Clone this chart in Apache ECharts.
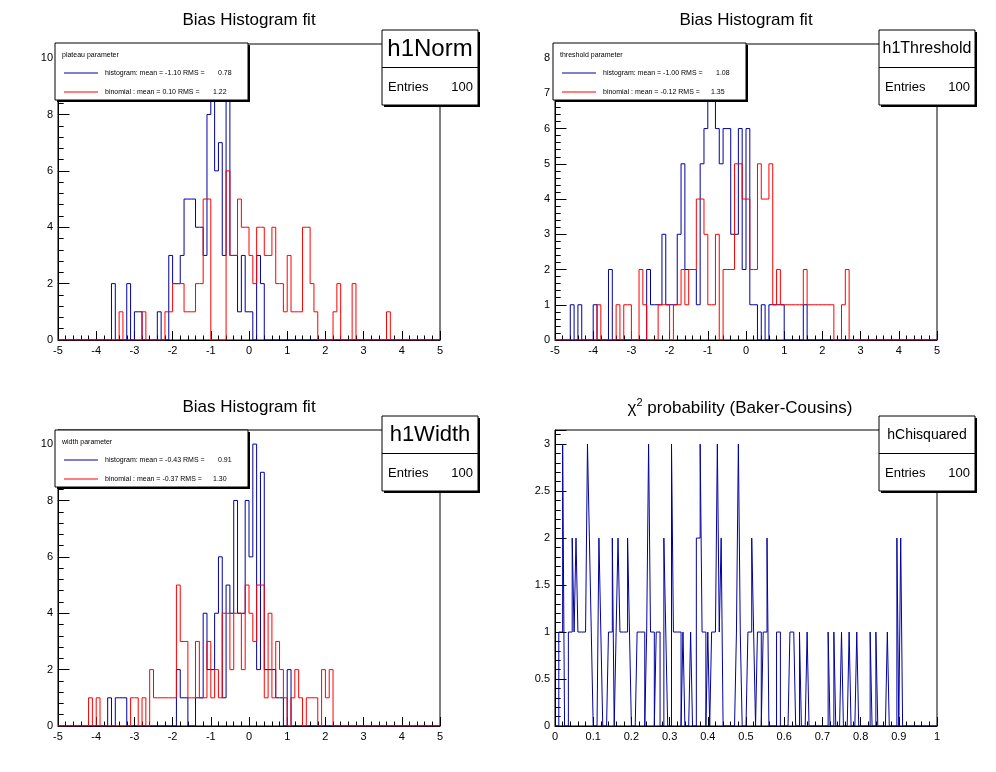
<!DOCTYPE html>
<html><head><meta charset="utf-8">
<script src="https://cdn.jsdelivr.net/npm/echarts@6/dist/echarts.min.js"></script>
<style>html,body{margin:0;padding:0;background:#fff}#c{width:996px;height:772px}</style>
</head><body><div id="c"></div>
<script>
// ---------- DATA ----------
// Bias histograms: 100 bins from -5 to 5 (bin width 0.1)
const biasRange = [-5, 5];
const biasBinWidth = 0.1;
const normHistogram = [
0,0,0,0,0,0,0,0,0,0,
0,0,0,0,2,0,0,0,2,0,
1,1,0,0,0,0,1,0,0,3,
2,2,3,5,5,5,4,4,3,8,
10,6,7,3,9,3,3,1,3,1,
1,0,3,2,0,0,0,0,0,0,
0,0,0,0,0,0,0,0,0,0,
0,0,0,0,0,0,0,0,0,0,
0,0,0,0,0,0,0,0,0,0,
0,0,0,0,0,0,0,0,0,0];
const normBinomial = [
0,0,0,0,0,0,0,0,0,0,
0,0,0,0,0,0,1,0,0,0,
0,0,1,0,0,0,0,0,1,1,
2,2,2,1,1,1,2,2,5,5,
0,0,0,0,6,3,3,5,4,4,
3,2,4,4,3,3,4,2,2,1,
3,1,1,1,4,4,2,1,0,0,
0,0,1,2,0,0,0,2,0,0,
0,0,0,0,0,0,1,0,0,0,
0,0,0,0,0,0,0,0,0,0];
const thrHistogram = [
0,0,0,0,1,0,1,0,0,0,
1,0,0,0,2,0,0,0,0,0,
0,0,0,0,2,1,1,1,3,1,
1,1,3,5,2,2,2,1,5,6,
7,8,6,5,6,6,3,3,6,2,
6,1,1,0,1,0,1,1,1,1,
0,0,0,0,0,1,0,0,0,0,
0,0,0,0,0,0,0,0,0,0,
0,0,0,0,0,0,0,0,0,0,
0,0,0,0,0,0,0,0,0,0];
const thrBinomial = [
0,0,0,0,0,0,0,0,0,0,
0,1,0,0,0,0,1,0,1,1,
0,0,2,1,0,0,0,1,1,1,
0,1,1,2,1,2,2,4,4,3,
1,1,3,0,2,2,2,5,5,4,
4,2,2,5,4,4,5,1,2,1,
1,1,1,1,1,2,1,1,1,1,
1,1,1,0,0,1,2,0,0,0,
0,0,0,0,0,0,0,0,0,0,
0,0,0,0,0,0,0,0,0,0];
const widthHistogram = [
0,0,0,0,0,0,0,0,0,0,
0,0,0,1,0,1,1,1,0,0,
0,0,0,0,0,0,0,0,0,0,
0,2,1,1,0,0,1,1,4,2,
2,4,6,1,5,4,8,4,4,8,
6,10,2,9,2,2,2,1,1,0,
2,0,0,0,0,0,0,0,0,0,
0,0,0,0,0,0,0,0,0,0,
0,0,0,0,0,0,0,0,0,0,
0,0,0,0,0,0,0,0,0,0];
const widthBinomial = [
0,0,0,0,0,0,0,0,1,0,
1,0,0,0,0,0,0,0,0,1,
1,0,1,0,2,1,1,1,1,1,
1,5,3,3,1,1,3,1,1,3,
1,2,1,4,4,2,4,4,2,5,
4,3,5,5,1,4,1,3,2,1,
0,1,2,1,0,1,1,1,0,2,
1,2,0,0,0,0,0,0,0,0,
0,0,0,0,0,0,0,0,0,0,
0,0,0,0,0,0,0,0,0,0];
// chi2 probability: 200 bins from 0 to 1 (bin width 0.005)
const probRange = [0, 1];
const probBinWidth = 0.005;
const chiProb = [
0,0,1,1,3,0,0,1,1,2,
1,2,1,1,1,1,1,3,2,1,
0,0,0,2,1,0,0,0,1,1,
2,0,1,2,1,1,1,1,2,1,
0,0,0,1,1,1,1,0,1,3,
1,1,0,1,1,0,0,2,1,0,
0,3,1,1,1,1,0,1,0,0,
0,1,0,0,2,2,3,1,1,0,
1,0,1,1,1,3,1,2,0,0,
0,0,0,0,0,1,3,1,0,0,
0,1,1,2,1,0,1,1,0,1,
1,2,0,0,0,0,1,1,0,0,
0,0,0,1,1,1,0,0,1,0,
0,0,1,0,0,0,0,0,0,0,
0,0,0,1,0,0,1,0,0,0,
1,0,0,0,1,0,0,0,1,0,
0,0,0,0,0,1,0,0,1,0,
0,0,0,0,1,0,0,0,0,2,
0,2,0,0,0,0,0,0,0,0,
0,0,0,0,0,0,0,0,0,0];
// axis ranges / ticks
const yMax = [10.5, 8.4, 10.5, 3.15];
const yMajor = [2, 1, 2, 0.5];
const yMinor = [0.4, 0.2, 0.4, 0.1];
const titles = ['Bias Histogram fit', 'Bias Histogram fit', 'Bias Histogram fit', 'chi2'];
const statNames = ['h1Norm', 'h1Threshold', 'h1Width', 'hChisquared'];
const statEntries = [100, 100, 100, 100];
const legendTitles = ['plateau parameter', 'threshold parameter', 'width parameter'];
const legendHist = [['-1.10', '0.78'], ['-1.00', '1.08'], ['-0.43', '0.91']];
const legendBinom = [['0.10', '1.22'], ['-0.12', '1.35'], ['-0.37', '1.30']];

// ---------- CHART ----------
const FONT = '"Liberation Sans", Arial, Helvetica, sans-serif';
const BLUE = '#0000a0';
const RED = '#ff0000';
const chart = echarts.init(document.getElementById('c'));

function hist(counts, lo, w) {
  const pts = [[lo, 0]];
  for (let i = 0; i < counts.length; i++) pts.push([+(lo + i * w).toFixed(6), counts[i]]);
  pts.push([+(lo + counts.length * w).toFixed(6), 0]);
  return pts;
}
const G = [
  {left: 58, top: 44},
  {left: 555, top: 44},
  {left: 58, top: 430},
  {left: 555, top: 430}
];
const GW = 382, GH = 296;
const grid = G.map(g => ({left: g.left, top: g.top, width: GW, height: GH, show: true,
  borderColor: '#000', borderWidth: 1, backgroundColor: 'transparent', outerBoundsMode: 'none', containLabel: false}));

const xAxis = G.map((g, i) => {
  const isProb = i === 3;
  return {
    gridIndex: i, type: 'value',
    min: isProb ? probRange[0] : biasRange[0], max: isProb ? probRange[1] : biasRange[1],
    interval: isProb ? 0.1 : 1,
    axisLine: {show: true, onZero: false, lineStyle: {color: '#000', width: 1}},
    axisTick: {show: true, inside: true, length: 9, lineStyle: {color: '#000', width: 1}},
    minorTick: {show: true, splitNumber: 5, length: 4.5, lineStyle: {color: '#000', width: 1}},
    splitLine: {show: false},
    axisLabel: {color: '#000', fontSize: 11, fontFamily: FONT, margin: 5, showMinLabel: true, showMaxLabel: true, hideOverlap: false}
  };
});
const yAxis = [];
G.forEach((g, i) => {
  const maj = yMajor[i];
  yAxis.push({
    gridIndex: i, type: 'value', position: 'left', min: 0, max: yMax[i], interval: maj,
    axisLine: {show: true, onZero: false, lineStyle: {color: '#000', width: 1}},
    axisTick: {show: true, inside: true, length: 11.5, lineStyle: {color: '#000', width: 1}},
    splitLine: {show: false},
    axisLabel: {color: '#000', fontSize: 11, fontFamily: FONT, margin: 5, hideOverlap: false,
      formatter: v => (Math.abs(v / maj - Math.round(v / maj)) < 1e-6 ? String(+v.toFixed(4)) : '')}
  });
  yAxis.push({
    gridIndex: i, type: 'value', position: 'left', min: 0, max: yMax[i], interval: yMinor[i],
    axisLine: {show: false, onZero: false}, axisLabel: {show: false}, splitLine: {show: false},
    axisTick: {show: true, inside: true, length: 5.7, lineStyle: {color: '#000', width: 1}}
  });
});

function stepSeries(counts, lo, w, gi, color) {
  return {type: 'line', xAxisIndex: gi, yAxisIndex: gi * 2, data: hist(counts, lo, w), step: 'end',
    symbol: 'none', silent: true, animation: false, clip: true,
    lineStyle: {color: color, width: 1}, z: 3};
}
const series = [
  stepSeries(normHistogram, biasRange[0], biasBinWidth, 0, BLUE),
  stepSeries(normBinomial, biasRange[0], biasBinWidth, 0, RED),
  stepSeries(thrHistogram, biasRange[0], biasBinWidth, 1, BLUE),
  stepSeries(thrBinomial, biasRange[0], biasBinWidth, 1, RED),
  stepSeries(widthHistogram, biasRange[0], biasBinWidth, 2, BLUE),
  stepSeries(widthBinomial, biasRange[0], biasBinWidth, 2, RED),
  stepSeries(chiProb, probRange[0], probBinWidth, 3, BLUE)
];

// ---------- decorations (titles, legends, stat boxes) ----------
const gfx = [];
function txt(x, y, s, size, align, extra) {
  gfx.push(Object.assign({type: 'text', x: x, y: y, z: 100, silent: true,
    style: {text: s, fill: '#000', font: size + 'px ' + FONT, align: align || 'left', verticalAlign: 'middle'}}, extra || {}));
}
function box(x, y, w, h) {
  gfx.push({type: 'rect', z: 99, silent: true, shape: {x: x, y: y, width: w, height: h},
    style: {fill: '#fff', stroke: '#000', lineWidth: 1}});
  gfx.push({type: 'polyline', z: 99, silent: true,
    shape: {points: [[x + 2, y + h + 1], [x + w + 1, y + h + 1], [x + w + 1, y + 2]]},
    style: {stroke: '#000', lineWidth: 2, fill: null}});
}
function line(x1, y1, x2, y2, color, wdt) {
  gfx.push({type: 'line', z: 100, silent: true, shape: {x1: x1, y1: y1, x2: x2, y2: y2},
    style: {stroke: color, lineWidth: wdt || 1}});
}
// titles
const titleX = [249, 746, 249, 740];
const titleY = [20, 20, 407, 407];
for (let i = 0; i < 3; i++) txt(titleX[i], titleY[i], titles[i], 17, 'center');
gfx.push({type: 'text', x: titleX[3], y: titleY[3], z: 100, silent: true,
  style: {text: '{a|\u03c7}{s|2}{a| probability (Baker-Cousins)}', align: 'center', verticalAlign: 'middle',
    rich: {a: {fontSize: 17, fontFamily: FONT, fill: '#000', lineHeight: 20, verticalAlign: 'bottom'},
           s: {fontSize: 11, fontFamily: FONT, fill: '#000', lineHeight: 20, verticalAlign: 'top'}}}});
// legends
const legPos = [[55, 43], [553, 43], [55, 430]];
legPos.forEach((p, i) => {
  const [x, y] = p;
  box(x, y, 193, 57);
  txt(x + 7, y + 12, legendTitles[i], 7, 'left');
  line(x + 9, y + 30, x + 43, y + 30, BLUE, 1.2);
  txt(x + 50, y + 30, 'histogram: mean = ' + legendHist[i][0] + ' RMS =', 7, 'left');
  txt(x + 163, y + 30, legendHist[i][1], 7, 'left');
  line(x + 9, y + 49, x + 43, y + 49, RED, 1.2);
  txt(x + 50, y + 49, 'binomial : mean = ' + legendBinom[i][0] + ' RMS =', 7, 'left');
  txt(x + 158, y + 49, legendBinom[i][1], 7, 'left');
});
// stat boxes
const statPos = [[382, 30], [879, 30], [382, 416], [879, 416]];
const statFont = [24, 16, 22, 14];
statPos.forEach((p, i) => {
  const [x, y] = p;
  box(x, y, 96, 75);
  line(x, y + 37.5, x + 96, y + 37.5, '#000', 1);
  txt(x + 48, y + 19, statNames[i], statFont[i], 'center');
  txt(x + 6, y + 57, 'Entries', 13, 'left');
  txt(x + 91, y + 57, String(statEntries[i]), 13, 'right');
});

chart.setOption({
  animation: false,
  backgroundColor: '#fff',
  grid: grid, xAxis: xAxis, yAxis: yAxis, series: series, graphic: gfx
});
</script></body></html>
